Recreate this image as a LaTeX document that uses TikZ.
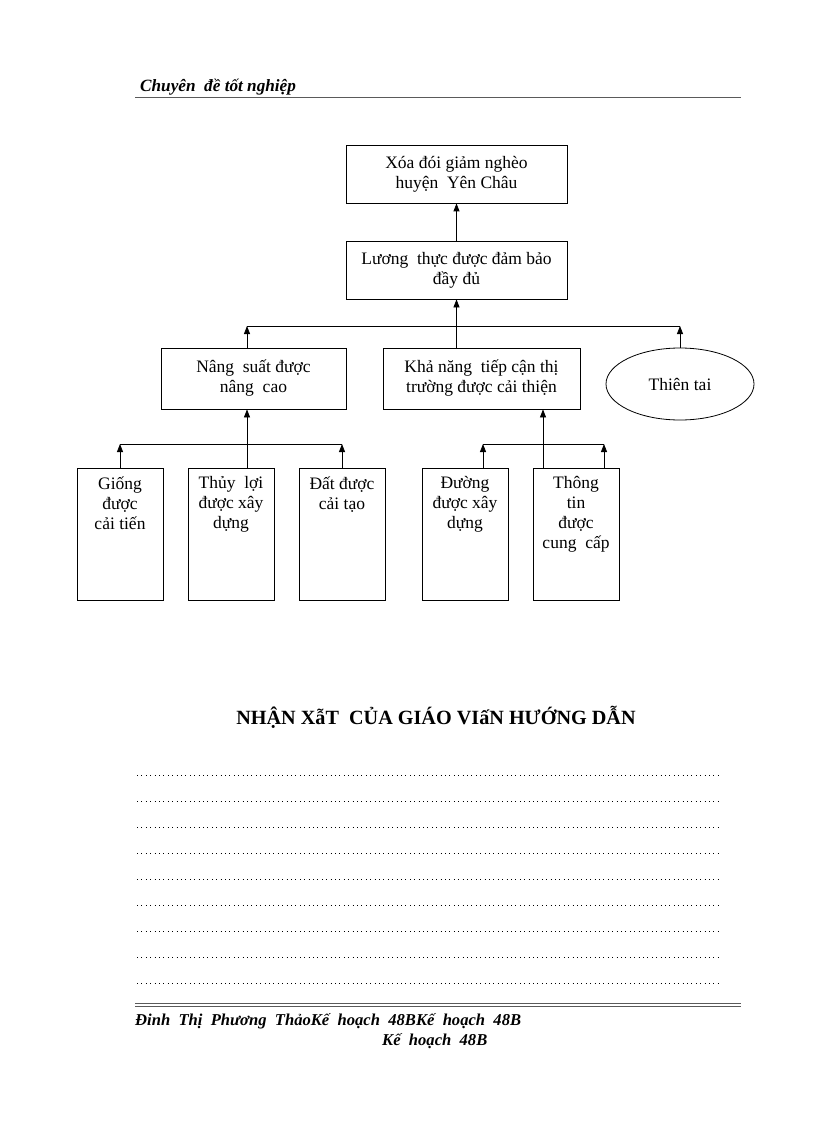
\documentclass[tikz,border=0pt]{standalone}
\usepackage{fontspec}
\setmainfont{Liberation Serif}
\usetikzlibrary{arrows.meta,shapes.geometric}
\definecolor{rulegray}{RGB}{90,90,90}
\newcommand{\boxfont}{\fontsize{17.5}{20}\selectfont}
\newcommand{\tallbox}[4]{%
  \node[tallbox] (#1) at (#2,#3) {};
  \node[boxtext, anchor=north] at ([yshift=-9pt]#1.north) {#4};}

\begin{document}
\begin{tikzpicture}[x=1pt, y=-1pt,
  box/.style={draw, line width=0.8pt, align=center, font=\boxfont, inner sep=0pt},
  tallbox/.style={draw, line width=0.8pt, minimum width=86pt, minimum height=132pt, inner sep=0pt},
  boxtext/.style={align=center, font=\boxfont, inner sep=0pt},
  arr/.style={line width=0.8pt, -{Triangle[length=8pt,width=6pt]}},
  link/.style={line width=0.8pt},
  dots/.style={line width=1pt, dash pattern=on 1pt off 3.4pt},
]
\useasboundingbox (0,0) rectangle (816,1123);

% ---- Header ----
\node[anchor=base west, inner sep=0pt, font=\fontsize{17.2}{18}\selectfont\bfseries\itshape] (head) at (140,92) {Chuyên \ đề tốt nghiệp};
\draw[rulegray, line width=0.9pt] (135,97) -- (741,97);

% ---- Top boxes ----
\node[box, minimum width=221pt, minimum height=58pt] (xoa) at (456.5,174) {Xóa đói giảm nghèo\\huyện \ Yên Châu};
\node[box, minimum width=221pt, minimum height=58pt] (luong) at (456.5,270) {Lương \ thực được đảm bảo\\đầy đủ};
\node[box, minimum width=185pt, minimum height=61pt] (nangsuat) at (253.5,378.5) {Nâng \ suất được\\nâng \ cao};
\node[box, minimum width=197pt, minimum height=61pt] (khanang) at (481.5,378.5) {Khả năng \ tiếp cận thị\\trường được cải thiện};
\node[box, ellipse, minimum width=148pt, minimum height=72pt] (thientai) at (680,384) {Thiên tai};

% ---- Bottom boxes ----
\tallbox{giong}{120}{534}{Giống\\được\\cải tiến}
\tallbox{thuyloi}{231}{534}{Thủy \ lợi\\được xây\\dựng}
\tallbox{dat}{342}{534}{Đất được\\cải tạo}
\tallbox{duong}{465}{534}{Đường\\được xây\\dựng}
\tallbox{thongtin}{576}{534}{Thông\\tin\\được\\cung \ cấp}

% ---- Bus lines and arrows ----
\coordinate (bus1) at (456.5,326);
\coordinate (bus2) at (231,444);
\coordinate (nsTop) at ([xshift=-6.5pt]nangsuat.north);
\coordinate (nsBot) at ([xshift=-6.5pt]nangsuat.south);
\coordinate (knBot) at ([xshift=61.5pt]khanang.south);
\coordinate (dgTop) at ([xshift=18pt]duong.north);
\coordinate (ttTop) at ([xshift=28pt]thongtin.north);

\draw[arr] (luong.north) -- (xoa.south);
\draw[arr] (luong.south |- khanang.north) -- (luong.south);
\draw[link] (nsTop |- bus1) -- (thientai.north |- bus1);
\draw[arr] (nsTop) -- (nsTop |- bus1);
\draw[arr] (thientai.north) -- (thientai.north |- bus1);

\draw[arr] (nsBot |- thuyloi.north) -- (nsBot);
\draw[link] (giong.north |- bus2) -- (dat.north |- bus2);
\draw[arr] (giong.north) -- (giong.north |- bus2);
\draw[arr] (dat.north) -- (dat.north |- bus2);

\draw[arr] (knBot |- duong.north) -- (knBot);
\draw[link] (dgTop |- bus2) -- (ttTop |- bus2);
\draw[arr] (dgTop) -- (dgTop |- bus2);
\draw[arr] (ttTop) -- (ttTop |- bus2);

% ---- Comments section ----
\node[anchor=base, inner sep=0pt, font=\fontsize{20.2}{22}\selectfont\bfseries] (title) at (436,724) {NHẬN XẫT \ CỦA GIÁO VIấN HƯỚNG DẪN};
\foreach \k in {0,...,8}
  \draw[dots] (137,775+26*\k) -- (720,775+26*\k);

% ---- Footer ----
\draw[rulegray, line width=0.9pt] (135,1003) -- (741,1003);
\draw[rulegray, line width=0.9pt] (135,1006) -- (741,1006);
\node[anchor=base west, inner sep=0pt, font=\fontsize{16.6}{18}\selectfont\bfseries\itshape] (foot1) at (135,1025) {Đinh \ Thị \ Phương \ ThảoKế \ hoạch \ 48BKế \ hoạch \ 48B};
\node[anchor=base west, inner sep=0pt, font=\fontsize{16.6}{18}\selectfont\bfseries\itshape] (foot2) at (382,1045) {Kế \ hoạch \ 48B};
\end{tikzpicture}
\end{document}
